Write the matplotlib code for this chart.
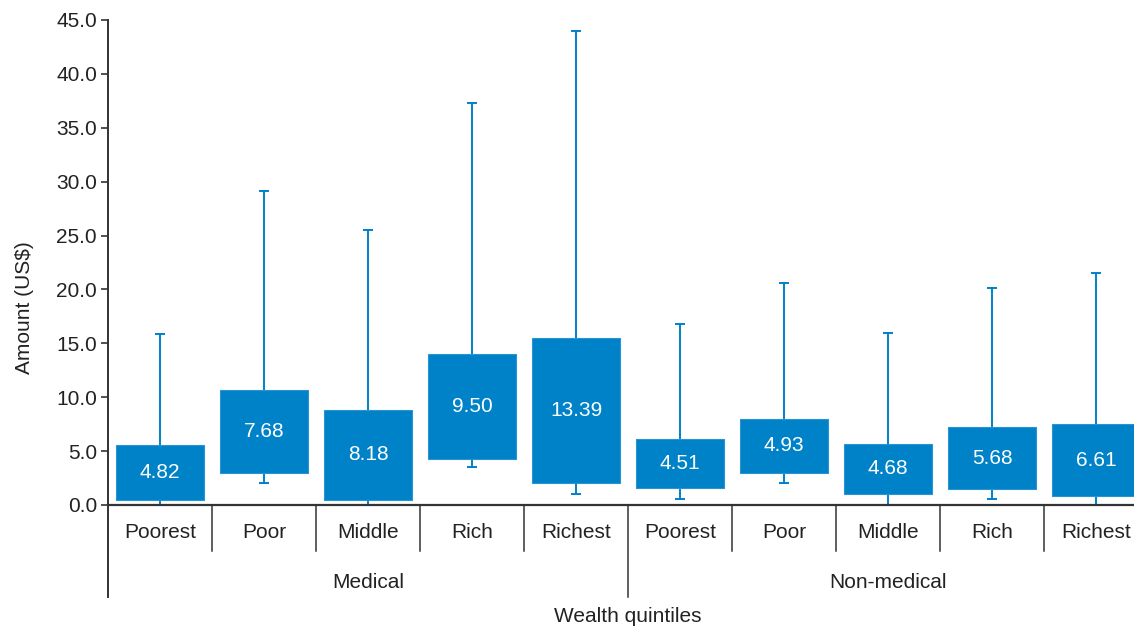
import matplotlib
matplotlib.use("Agg")
import matplotlib.pyplot as plt
from matplotlib.transforms import blended_transform_factory

plt.rcParams["font.family"] = ["Liberation Sans", "DejaVu Sans"]

# Wealth quintile categories within each expenditure type
groups = ["Medical", "Non-medical"]
quintiles = ["Poorest", "Poor", "Middle", "Rich", "Richest"]

# Spread of spending per quintile (US$): whisker min/max and box lower/upper bounds
medical_min = [0.0, 2.0, 0.0, 3.5, 1.0]
medical_q1 = [0.5, 3.0, 0.5, 4.3, 2.0]
medical_q3 = [5.6, 10.7, 8.8, 14.0, 15.5]
medical_max = [15.9, 29.1, 25.5, 37.3, 44.0]
medical_mean = [4.82, 7.68, 8.18, 9.50, 13.39]

nonmed_min = [0.6, 2.0, 0.0, 0.6, 0.0]
nonmed_q1 = [1.6, 3.0, 1.0, 1.5, 0.8]
nonmed_q3 = [6.1, 8.0, 5.7, 7.2, 7.5]
nonmed_max = [16.8, 20.6, 16.0, 20.1, 21.5]
nonmed_mean = [4.51, 4.93, 4.68, 5.68, 6.61]

y_ticks = [0, 5, 10, 15, 20, 25, 30, 35, 40, 45]

BLUE = "#0082C8"
AXIS = "#333333"
TEXT = "#222222"

mins = medical_min + nonmed_min
q1s = medical_q1 + nonmed_q1
q3s = medical_q3 + nonmed_q3
maxs = medical_max + nonmed_max
means = medical_mean + nonmed_mean
labels = quintiles + quintiles
n = len(labels)
centers = [i + 0.5 for i in range(n)]

fig = plt.figure(figsize=(11.34, 6.28), dpi=100)
ax = fig.add_axes([108 / 1134, 123 / 628, 1040 / 1134, 485 / 628])

box_w = 0.84
cap_w = 0.1
for x, lo, b, t, hi, m in zip(centers, mins, q1s, q3s, maxs, means):
    ax.plot([x, x], [lo, hi], color=BLUE, lw=1.4, zorder=1, clip_on=False)
    for yv in (lo, hi):
        ax.plot([x - cap_w / 2, x + cap_w / 2], [yv, yv], color=BLUE, lw=1.4,
                zorder=1, clip_on=False, solid_capstyle="butt")
    ax.bar(x, t - b, bottom=b, width=box_w, color=BLUE, edgecolor="#2a93d0",
           linewidth=0.8, zorder=2)
    ax.text(x, (b + t) / 2, f"{m:.2f}", ha="center", va="center",
            color="white", fontsize=15, zorder=3)

ax.set_xlim(0, n)
ax.set_ylim(0, 45)
ax.set_yticks(y_ticks)
ax.set_yticklabels([f"{v:.1f}" for v in y_ticks])
ax.tick_params(axis="y", direction="out", length=5, width=1.2, color=AXIS,
               labelsize=15, labelcolor=TEXT, pad=3)
ax.set_xticks([])
for side in ("top", "right"):
    ax.spines[side].set_visible(False)
ax.spines["left"].set_color(AXIS)
ax.spines["left"].set_linewidth(1.4)
ax.spines["bottom"].set_color(AXIS)
ax.spines["bottom"].set_linewidth(1.6)

fig.text(24 / 1134, (628 - 308) / 628, "Amount (US$)", rotation=90,
         ha="center", va="center", fontsize=15, color=TEXT)

# Hierarchical category axis below the plot
tr = blended_transform_factory(ax.transData, fig.transFigure)
y_axis = 123 / 628
y_short = 77 / 628
y_long = 31 / 628
for i in range(1, n):
    y_end = y_long if i == 5 else y_short
    ax.plot([i, i], [y_axis, y_end], transform=tr, color=AXIS, lw=1.1,
            clip_on=False)
ax.plot([0, 0], [y_axis, y_long], transform=tr, color=AXIS, lw=1.4,
        clip_on=False)

for x, lab in zip(centers, labels):
    ax.text(x, 95 / 628, lab, transform=tr, ha="center", va="center",
            fontsize=15, color=TEXT)
for gi, g in enumerate(groups):
    ax.text(2.5 + 5 * gi, 46 / 628, g, transform=tr, ha="center",
            va="center", fontsize=15, color=TEXT)
ax.text(5.0, 11 / 628, "Wealth quintiles", transform=tr, ha="center",
        va="center", fontsize=15, color=TEXT)

fig.savefig("out.png", dpi=100)
